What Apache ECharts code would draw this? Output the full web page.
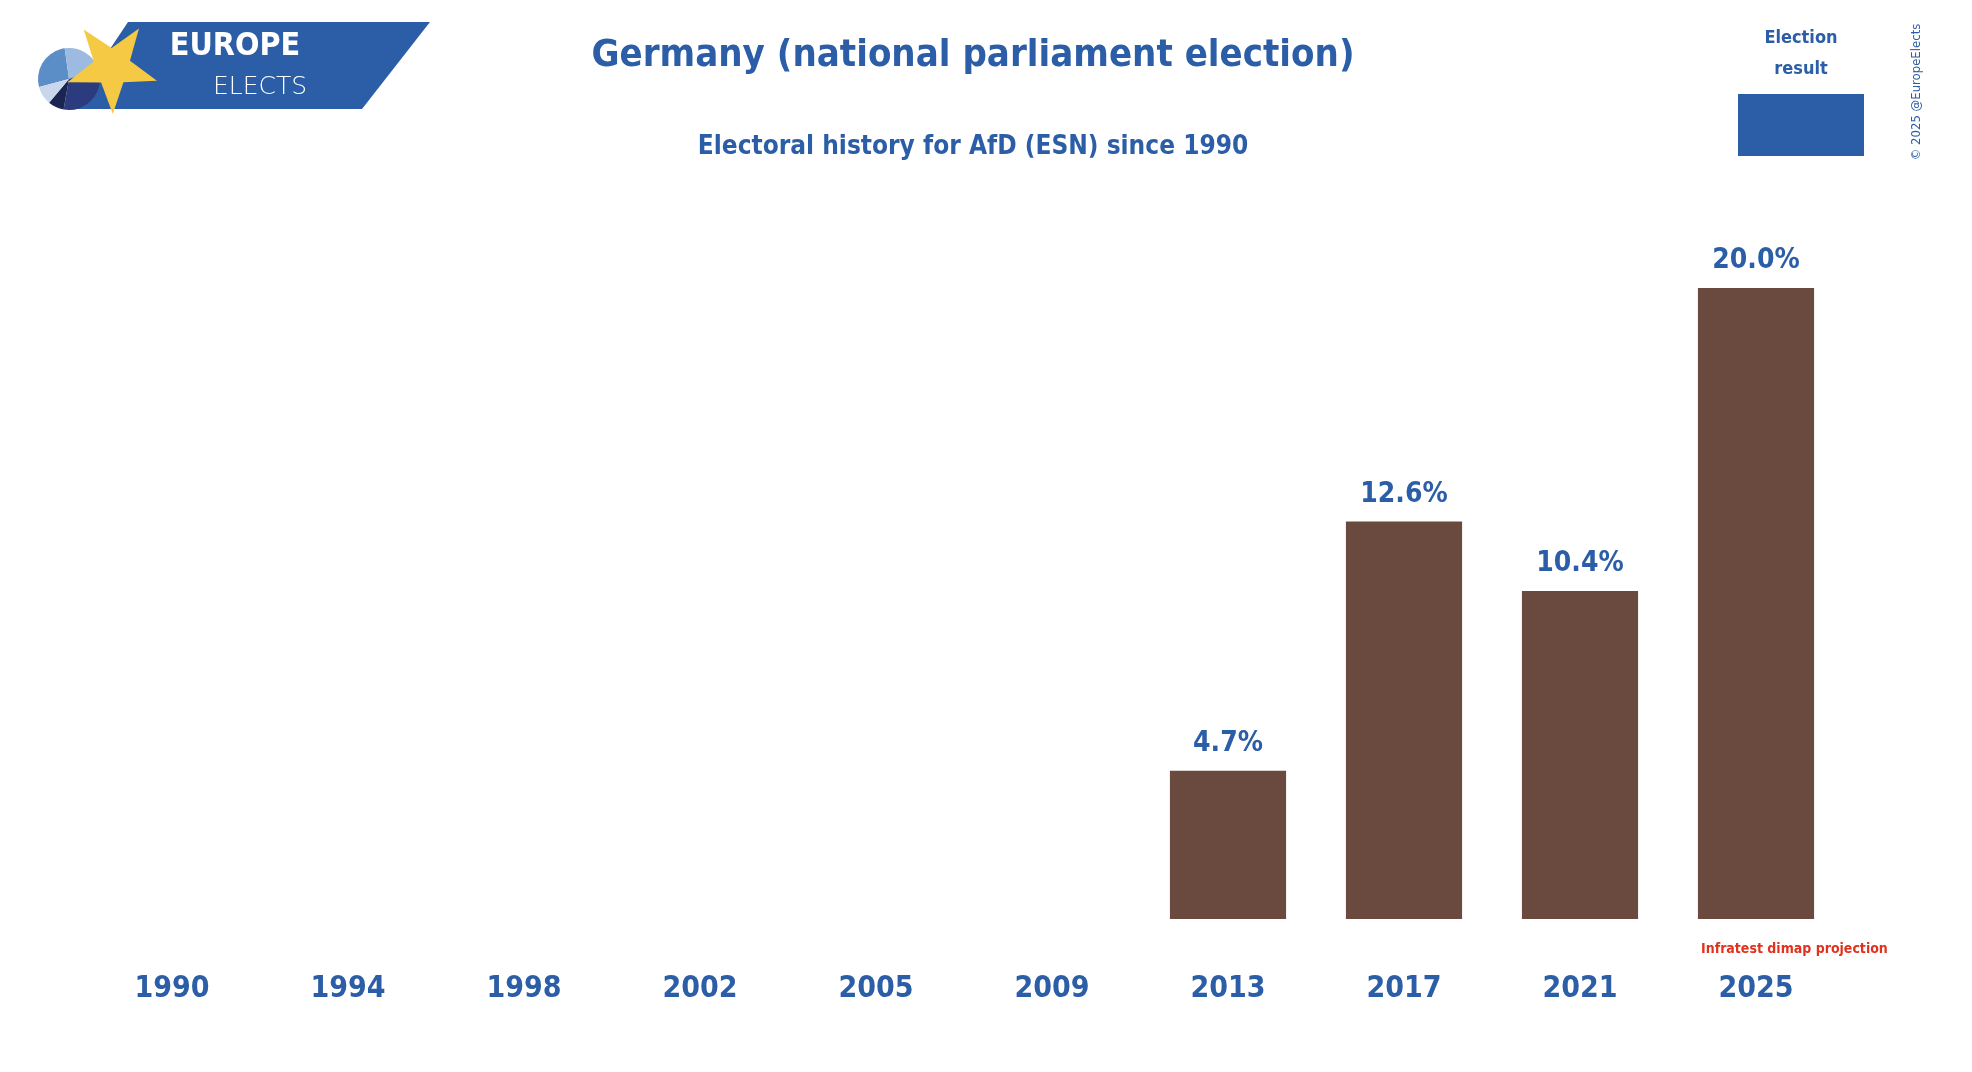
<!DOCTYPE html>
<html>
<head>
<meta charset="utf-8">
<script src="https://cdn.jsdelivr.net/npm/echarts@6/dist/echarts.min.js"></script>
<style>
html,body{margin:0;padding:0;background:#fff;}
#c{width:1972px;height:1072px;}
</style>
</head>
<body>
<div id="c"></div>
<script>
// ---- data ----
const years = ['1990','1994','1998','2002','2005','2009','2013','2017','2021','2025'];
const afdResult = [null, null, null, null, null, null, 4.7, 12.6, 10.4, 20.0];
const titleText = 'Germany (national parliament election)';
const subtitleText = 'Electoral history for AfD (ESN) since 1990';
const legendText = 'Election\nresult';
const noteText = 'Infratest dimap projection';
const creditText = '\u00A9 2025 @EuropeElects';

const BLUE = '#2b5ea7';
const BROWN = '#6a4a3e';
const FONT = '"Liberation Sans Narrow", "DejaVu Sans Condensed", sans-serif';

// star polygon for logo decoration
function starPoints(cx, cy, R, r, startDeg) {
  const pts = [];
  for (let i = 0; i < 10; i++) {
    const a = (startDeg + i * 36) * Math.PI / 180;
    const rad = i % 2 === 0 ? R : r;
    pts.push([cx + rad * Math.cos(a), cy + rad * Math.sin(a)]);
  }
  return pts;
}
const deg = d => d * Math.PI / 180;
const pieC = [69, 79], pieR = 31;
const pieSlices = [
  {s: 165, e: 262, c: '#5b8dc6'},
  {s: 262, e: 340, c: '#9dbbe0'},
  {s: 340, e: 460, c: '#2c3b7e'},
  {s: 460, e: 490, c: '#1b2552'},
  {s: 490, e: 525, c: '#c8d7ec'}
];

const chart = echarts.init(document.getElementById('c'), null, {renderer: 'canvas'});
chart.setOption({
  backgroundColor: '#ffffff',
  animation: false,
  title: [
    {text: titleText, left: 968, textAlign: 'center', top: 32,
     textStyle: {color: BLUE, fontFamily: FONT, fontWeight: 'bold', fontSize: 38}},
    {text: subtitleText, left: 968, textAlign: 'center', top: 129,
     textStyle: {color: BLUE, fontFamily: FONT, fontWeight: 'bold', fontSize: 26}}
  ],
  grid: {left: 84, right: 128, top: 225, bottom: 153, containLabel: false},
  xAxis: {
    type: 'category',
    data: years,
    axisLine: {show: false},
    axisTick: {show: false},
    splitLine: {show: false},
    axisLabel: {color: BLUE, fontFamily: FONT, fontWeight: 'bold', fontSize: 30, margin: 55, interval: 0}
  },
  yAxis: {type: 'value', min: 0, max: 22, show: false, splitLine: {show: false}},
  series: [{
    type: 'bar',
    data: afdResult,
    barWidth: '66%',
    itemStyle: {color: BROWN},
    label: {
      show: true, position: 'top', distance: 13,
      color: BLUE, fontFamily: FONT, fontWeight: 'bold', fontSize: 28,
      formatter: p => p.value == null ? '' : p.value.toFixed(1) + '%'
    }
  }],
  graphic: [
    // logo band
    {type: 'polygon', shape: {points: [[128,22],[430,22],[362,109],[70,109]]}, style: {fill: '#2b5ea7'}},
    // pie
    ...pieSlices.map(sl => ({type: 'sector', shape: {cx: pieC[0], cy: pieC[1], r: pieR, startAngle: deg(sl.s), endAngle: deg(sl.e)}, style: {fill: sl.c}})),
    // star
    {type: 'polygon', shape: {points: starPoints(112, 67, 47, 19, -127)}, style: {fill: '#f6c944'}},
    {type: 'text', x: 235, y: 47, style: {text: 'EUROPE', fill: '#ffffff', font: 'bold 32px ' + FONT, align: 'center', verticalAlign: 'middle'}},
    {type: 'text', x: 260, y: 87, style: {text: 'ELECTS', fill: '#ffffff', font: '200 25px "DejaVu Sans", sans-serif', align: 'center', verticalAlign: 'middle'}},
    // legend
    {type: 'text', x: 1801, y: 54, style: {text: legendText, fill: BLUE, font: 'bold 18px ' + FONT, lineHeight: 31, align: 'center', verticalAlign: 'middle'}},
    {type: 'rect', shape: {x: 1738, y: 94, width: 126, height: 62}, style: {fill: '#2b5ea7'}},
    // credit (vertical)
    {type: 'text', x: 1917, y: 92, rotation: Math.PI / 2, style: {text: creditText, fill: BLUE, font: '13px ' + FONT, align: 'center', verticalAlign: 'middle'}},
    // note
    {type: 'text', x: 1701, y: 949, style: {text: noteText, fill: '#e0321f', font: 'bold 14px ' + FONT, align: 'left', verticalAlign: 'middle'}}
  ]
});
</script>
</body>
</html>
